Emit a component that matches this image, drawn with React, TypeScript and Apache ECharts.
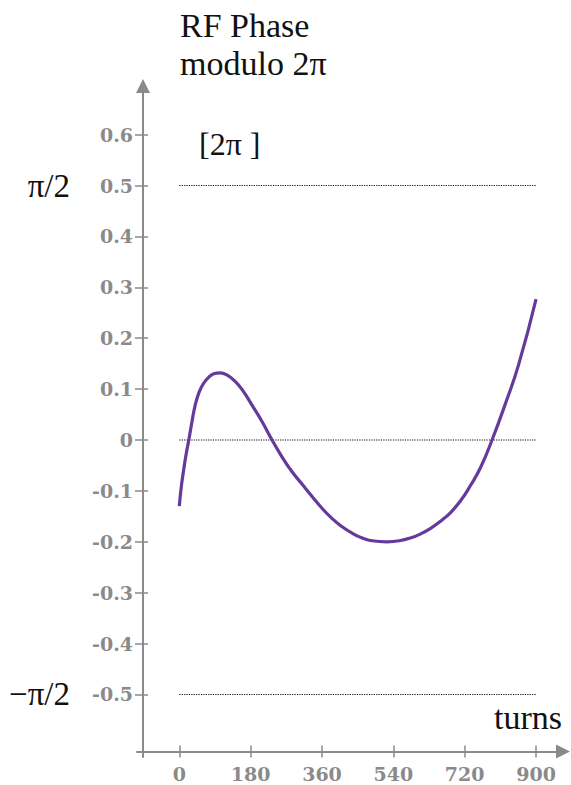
import React, { useEffect, useRef } from "react";
import * as echarts from "echarts";

// Curve (turn, phase)
const turns = [0, 5, 11, 17, 24, 32, 40, 50, 61, 74, 87, 103, 120, 141, 162, 183, 209, 234, 259, 284, 310, 335, 360, 385, 410, 436, 460, 486, 524, 555, 585, 610, 635, 660, 685, 710, 735, 760, 789, 823, 856, 900];
const phase = [-0.13, -0.092, -0.059, -0.029, 0, 0.036, 0.068, 0.094, 0.111, 0.123, 0.13, 0.132, 0.128, 0.115, 0.095, 0.069, 0.036, 0, -0.033, -0.062, -0.087, -0.111, -0.134, -0.154, -0.17, -0.183, -0.192, -0.198, -0.2, -0.198, -0.192, -0.184, -0.173, -0.159, -0.142, -0.119, -0.089, -0.054, 0, 0.072, 0.148, 0.277];

const xTicks = [0, 180, 360, 540, 720, 900];
const yTicks = [-0.5, -0.4, -0.3, -0.2, -0.1, 0, 0.1, 0.2, 0.3, 0.4, 0.5, 0.6];
const refLines = [0.5, 0, -0.5];
const piTicks = [-0.5, 0.5];
const piLabels: Record<string, string> = { "-0.5": "−π/2", "0.5": "π/2" };

const X_MIN = -106.7;
const X_MAX = 968;
const Y_MIN = -0.6228;
const Y_MAX = 0.6955;

const AXIS = "#8a8a8a";
const PURPLE = "#643a9c";

export default function App() {
  const ref = useRef<HTMLDivElement>(null);
  useEffect(() => {
    if (!ref.current) return;
    const chart = echarts.init(ref.current, null, { renderer: "svg" });
    const labelFont = { fontFamily: "DejaVu Serif", fontWeight: "bold" as const, fontSize: 19, color: AXIS };
    const commonY = { type: "value" as const, min: Y_MIN, max: Y_MAX, position: "left" as const, offset: -6, splitLine: { show: false } };
    const commonX = { type: "value" as const, min: X_MIN, max: X_MAX, position: "bottom" as const, offset: -5.5, splitLine: { show: false } };
    chart.setOption({
      animation: false,
      backgroundColor: "#ffffff",
      grid: { left: 137, right: 8, top: 86, bottom: 28, containLabel: false, outerBoundsMode: "none" },
      xAxis: [
        {
          ...commonX,
          axisLine: { show: true, onZero: false, symbol: ["none", "triangle"], symbolSize: [14, 14], lineStyle: { color: AXIS, width: 2 } },
          axisTick: { show: true, customValues: xTicks, length: 6, inside: false, lineStyle: { color: AXIS, width: 1.5 } },
          axisLabel: { show: true, customValues: xTicks, margin: 13, ...labelFont, formatter: (v: number) => String(v) },
        },
        {
          ...commonX,
          axisLine: { show: false, onZero: false },
          axisTick: { show: true, customValues: xTicks, length: 6, inside: true, lineStyle: { color: AXIS, width: 1.5 } },
          axisLabel: { show: false },
        },
      ],
      yAxis: [
        {
          ...commonY,
          axisLine: { show: true, onZero: false, symbol: ["none", "triangle"], symbolSize: [14, 14], lineStyle: { color: AXIS, width: 2 } },
          axisTick: { show: true, customValues: yTicks, length: 8, inside: false, lineStyle: { color: AXIS, width: 1.5 } },
          axisLabel: {
            show: true,
            customValues: yTicks,
            margin: 10,
            ...labelFont,
            formatter: (v: number) => (Math.abs(v) < 1e-9 ? "0" : v.toFixed(1)),
          },
        },
        {
          ...commonY,
          axisLine: { show: false, onZero: false },
          axisTick: { show: true, customValues: yTicks, length: 5, inside: true, lineStyle: { color: AXIS, width: 1.5 } },
          axisLabel: { show: false },
        },
        {
          ...commonY,
          axisLine: { show: false, onZero: false },
          axisTick: { show: false },
          axisLabel: {
            show: true,
            customValues: piTicks,
            margin: 73,
            fontFamily: "Liberation Serif",
            fontSize: 33,
            color: "#111",
            formatter: (v: number) => piLabels[v.toFixed(1)] ?? "",
          },
        },
      ],
      series: [
        ...refLines.map((v) => ({
          type: "line",
          xAxisIndex: 0,
          yAxisIndex: 0,
          data: [[xTicks[0], v], [xTicks[xTicks.length - 1], v]],
          showSymbol: false,
          silent: true,
          lineStyle: { type: "dotted", color: "#111", width: 1.2 },
        })),
        {
          type: "line",
          xAxisIndex: 0,
          yAxisIndex: 0,
          data: turns.map((t, i) => [t, phase[i]]),
          smooth: 0.5,
          showSymbol: false,
          lineStyle: { color: PURPLE, width: 3.2 },
        },
      ],
      graphic: [
        { type: "text", left: 180, top: 8, style: { text: "RF Phase", font: "34px 'Liberation Serif'", fill: "#111" } },
        { type: "text", left: 180, top: 46, style: { text: "modulo 2π", font: "34px 'Liberation Serif'", fill: "#111" } },
        { type: "text", left: 199, top: 128, style: { text: "[2π ]", font: "32px 'Liberation Serif'", fill: "#111" } },
        { type: "text", left: 494, top: 700, style: { text: "turns", font: "34px 'Liberation Serif'", fill: "#111" } },
      ],
    });
    return () => chart.dispose();
  }, []);
  return <div ref={ref} style={{ position: "fixed", left: 0, top: 0, width: 571, height: 785 }} />;
}
